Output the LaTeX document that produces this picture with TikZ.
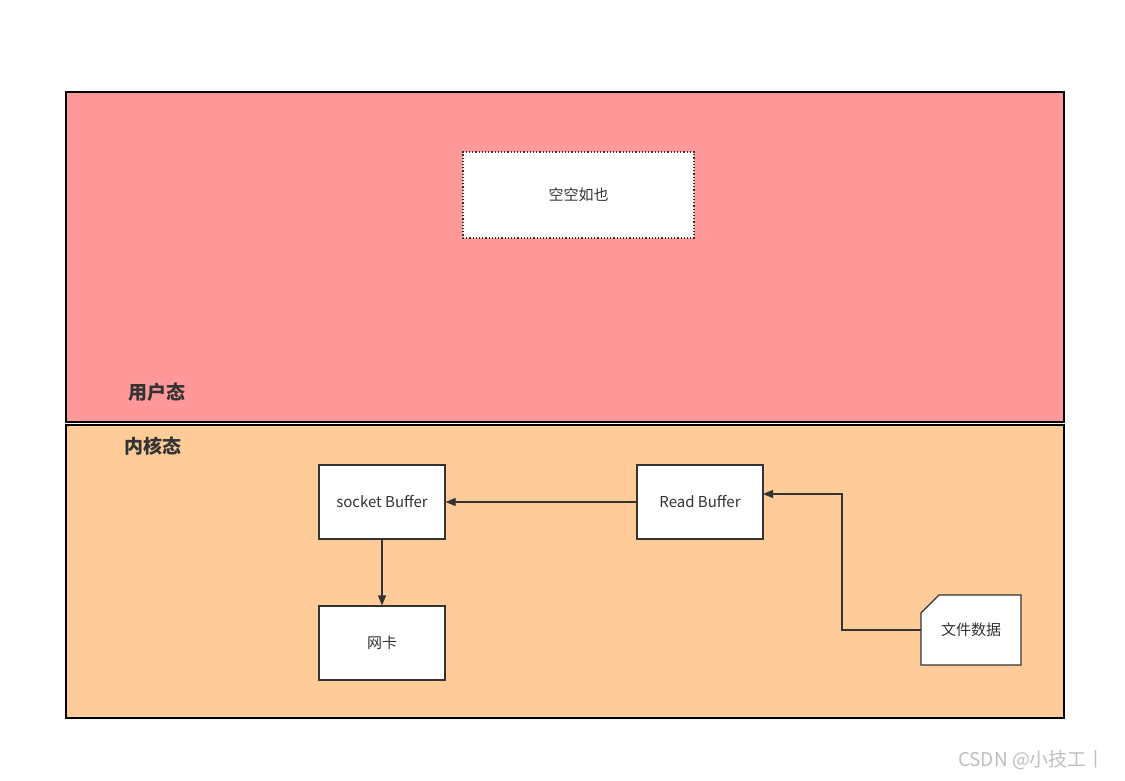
\documentclass[tikz,border=0pt]{standalone}
\usepackage{fontspec}
\setmainfont{Noto Sans CJK SC}
\usetikzlibrary{arrows.meta}
\definecolor{userc}{HTML}{FF9999}
\definecolor{kernc}{HTML}{FFCC99}
\definecolor{linec}{HTML}{333333}
\begin{document}
\begin{tikzpicture}[x=1pt,y=-1pt,
  box/.style={draw=linec,fill=white,line width=1.2pt,font=\fontsize{15}{17}\selectfont,text=linec},
  arr/.style={draw=linec,line width=1.2pt,-{Triangle[length=10pt,width=8pt]}},
  lbl/.style={font=\fontsize{19}{21}\selectfont\bfseries,text=linec}]
\useasboundingbox (0,0) rectangle (1125,780);
\fill[white] (0,0) rectangle (1125,780);
\draw[fill=userc,line width=1.5pt] (66,92) rectangle (1064,422);
\draw[fill=kernc,line width=1.5pt] (66,425) rectangle (1064,718);
\node[box,dotted,line width=1.2pt,minimum width=231pt,minimum height=86pt] (empty) at (578.5,195) {空空如也};
\node[lbl] (user) at (157,392) {用户态};
\node[lbl] (kern) at (153,446) {内核态};
\node[box,minimum width=126pt,minimum height=74pt] (sock) at (382,502) {socket Buffer};
\node[box,minimum width=126pt,minimum height=74pt] (read) at (700,502) {Read Buffer};
\node[box,minimum width=126pt,minimum height=74pt] (nic) at (382,643) {网卡};
\draw[box] (939,595) -- (1021,595) -- (1021,665) -- (921,665) -- (921,613) -- cycle;
\node[font=\fontsize{15}{17}\selectfont,text=linec] (file) at (971,630) {文件数据};
\coordinate (fl) at (921,630);
\coordinate (bend1) at (842,630);
\coordinate (bend2) at (842,494);
\coordinate (rin) at (763,494);
\draw[arr] (read) -- (sock);
\draw[arr] (sock) -- (nic);
\draw[arr] (fl) -- (bend1) -- (bend2) -- (rin);
\node[font=\fontsize{19}{21}\selectfont,text=black!25] (wm) at (1032,760) {CSDN @小技工丨};
\end{tikzpicture}
\end{document}
